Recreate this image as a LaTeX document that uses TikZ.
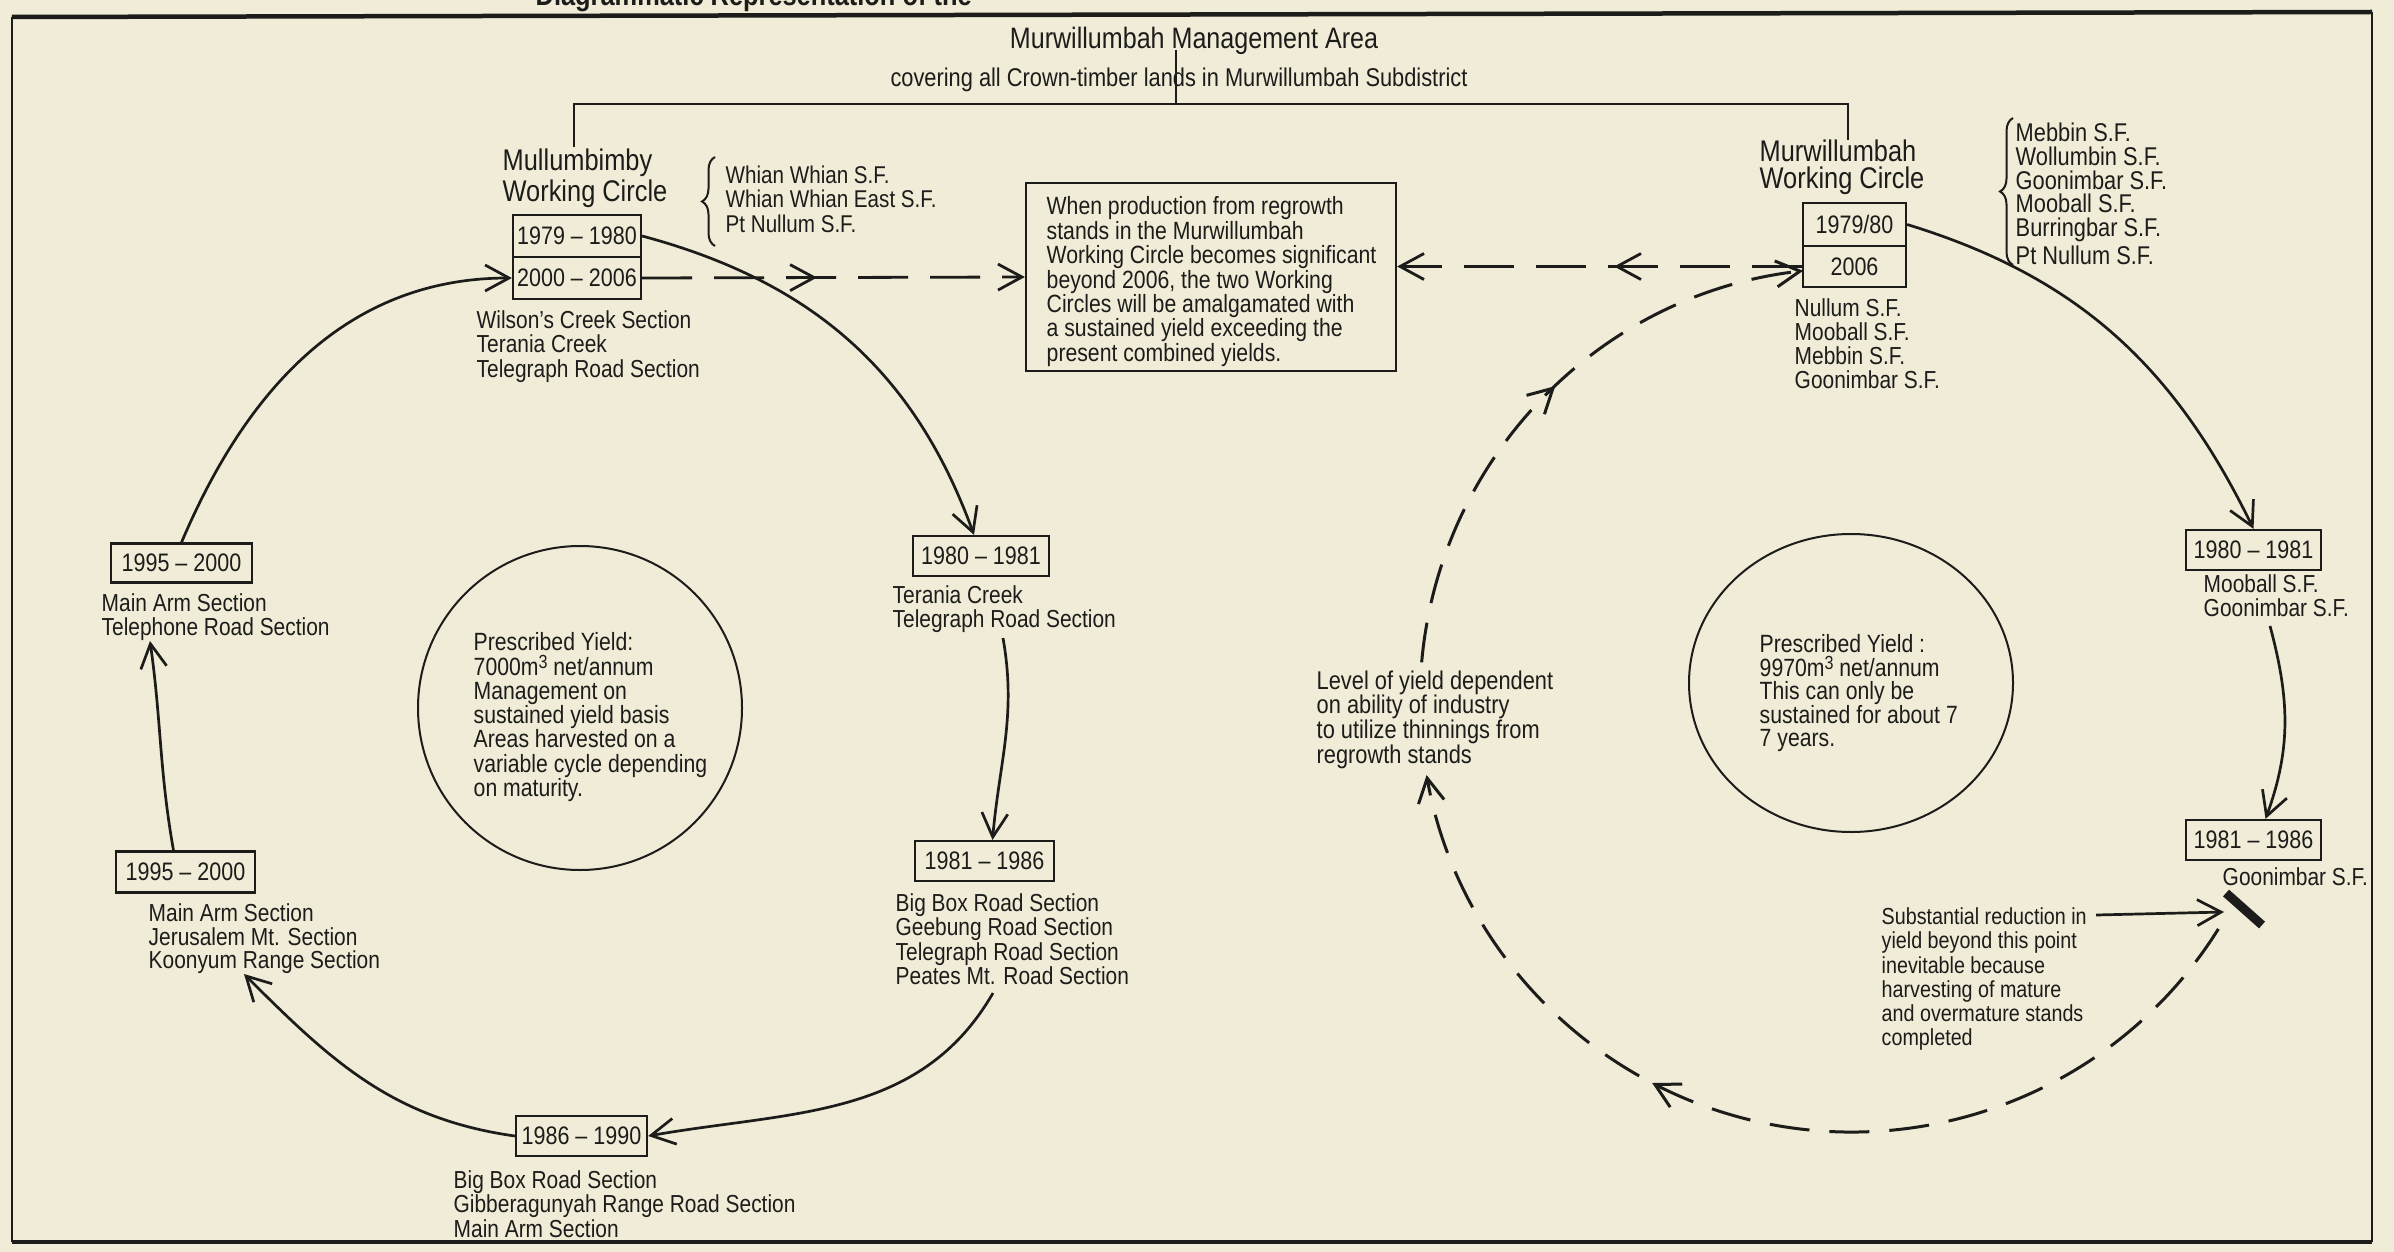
\documentclass[tikz,border=0pt]{standalone}
\usepackage{fontspec}
\setmainfont{Liberation Sans}[FakeStretch=0.85]
\usetikzlibrary{arrows.meta,decorations.pathreplacing,decorations.markings,shapes.geometric,calc}
\definecolor{paper}{HTML}{F0ECD7}
\definecolor{ink}{HTML}{1C1C1A}
\newcommand{\fsz}[2]{\fontsize{#1}{#2}\selectfont}
\newcommand{\cubed}{\raisebox{0.28em}{\fsz{5.4}{5}3}}
\begin{document}
\begin{tikzpicture}[x=0.1mm,y=-0.1mm,
  tx/.style={inner sep=0pt, anchor=north west, align=left, text=ink, font=\fsz{7}{6.95}},
  yr/.style={draw=ink, line width=0.22mm, inner sep=0pt, minimum width=13.6mm, minimum height=4mm, text=ink, font=\fsz{7.2}{8}},
  ln/.style={draw=ink, line width=0.22mm},
  con/.style={draw=ink, line width=0.27mm, -{Straight Barb[length=2.4mm,width=2.6mm]}},
  dsh/.style={draw=ink, line width=0.3mm, dash pattern=on 4mm off 2mm},
  dshh/.style={draw=ink, line width=0.28mm, dash pattern=on 5mm off 2.2mm},
  tipend/.style={-{Straight Barb[length=2.4mm,width=2.6mm]}},
  midtip/.style={postaction={decorate}, decoration={markings, mark=at position #1 with {\arrow{Straight Barb[length=2.4mm,width=2.6mm]}}}},
]
\useasboundingbox (0,0) rectangle (2394,1252);
\fill[paper] (0,0) rectangle (2394,1252);

% caption (clipped at top)
\node[anchor=base west, inner sep=0pt, text=ink, font=\bfseries\fsz{8.5}{9}] (cap) at (535,6) {Diagrammatic Representation of the};

% frame
\coordinate (fTL) at (12,17); \coordinate (fTR) at (2372,12);
\coordinate (fBL) at (12,1242); \coordinate (fBR) at (2372,1242);
\draw[ink, line width=0.45mm] (fTL) -- (fTR);
\draw[ink, line width=0.45mm] (fBL) -- (fBR);
\draw[ink, line width=0.25mm] (fTL) -- (fBL);
\draw[ink, line width=0.25mm] (fTR) -- (fBR);

% top titles
\node[anchor=base, inner sep=0pt, text=ink, font=\fsz{8.4}{9}] (ma) at (1194,49) {Murwillumbah Management Area};
\node[anchor=base, inner sep=0pt, text=ink, font=\fsz{7.3}{8}] (cov) at (1179,87) {covering all Crown-timber lands in Murwillumbah Subdistrict};
\coordinate (v1) at (1176,50); \coordinate (v2) at (1176,104);
\draw[ln] (v1) -- (v2);
\coordinate (hL) at (574,104); \coordinate (hR) at (1848,104);
\coordinate (lL) at (574,147); \coordinate (lR) at (1848,140);
\draw[ln] (lL) -- (hL) -- (hR) -- (lR);

% working circle titles
\node[tx, font=\fsz{8.5}{7.7}] (mwc) at (502,148) {Mullumbimby\\Working Circle};
\node[tx, font=\fsz{8.5}{7.7}] (rwc) at (1759,139) {Murwillumbah\\Working Circle};

% double boxes
\node[yr, minimum width=12.8mm, minimum height=4.2mm] (mtop) at (577,236) {1979 -- 1980};
\node[yr, minimum width=12.8mm, minimum height=4.2mm] (mbot) at (577,278) {2000 -- 2006};
\node[yr, minimum width=10.3mm, minimum height=4.3mm] (rtop) at (1854.5,224.5) {1979/80};
\node[yr, minimum width=10.3mm, minimum height=4.1mm] (rbot) at (1854.5,266.5) {2006};

% braces and lists
\draw[ink, line width=0.2mm, decorate, decoration={brace, amplitude=1.3mm}] (715,246) -- (715,157);
\draw[ink, line width=0.2mm, decorate, decoration={brace, amplitude=1.3mm}] (2013,265) -- (2013,118);
\node[tx, font=\fsz{6.9}{7}] (whian) at (725,165) {Whian Whian S.F.\\Whian Whian East S.F.\\Pt Nullum S.F.};
\node[tx, font=\fsz{7.3}{6.8}] (rlist) at (2015,122) {Mebbin S.F.\\Wollumbin S.F.\\Goonimbar S.F.\\Mooball S.F.\\Burringbar S.F.\\Pt Nullum S.F.};
\node[tx] (wil) at (476,310) {Wilson's Creek Section\\Terania Creek\\Telegraph Road Section};
\node[tx, font=\fsz{7}{6.85}] (nul) at (1794,298) {Nullum S.F.\\Mooball S.F.\\Mebbin S.F.\\Goonimbar S.F.};

% info box
\node[draw=ink, line width=0.22mm, minimum width=37mm, minimum height=18.8mm, inner sep=0pt] (info) at (1211,277) {};
\node[tx, font=\fsz{7.1}{6.95}] (infotx) at (1046,196) {When production from regrowth\\stands in the Murwillumbah\\Working Circle becomes significant\\beyond 2006, the two Working\\Circles will be amalgamated with\\a sustained yield exceeding the\\present combined yields.};

% left chain
\node[yr, minimum width=13.6mm] (b8081) at (981,556) {1980 -- 1981};
\node[tx] (ter) at (892,585) {Terania Creek\\Telegraph Road Section};
\node[yr, minimum width=13.9mm] (b8186) at (984.5,861) {1981 -- 1986};
\node[tx] (bigbox) at (895,893) {Big Box Road Section\\Geebung Road Section\\Telegraph Road Section\\Peates Mt. Road Section};
\node[yr, minimum width=13.1mm] (b8690) at (581.5,1136) {1986 -- 1990};
\node[tx] (gib) at (453,1170) {Big Box Road Section\\Gibberagunyah Range Road Section\\Main Arm Section};
\node[yr, minimum width=13.9mm, minimum height=4.1mm] (b9500a) at (185.5,872) {1995 -- 2000};
\node[tx, font=\fsz{7}{6.7}] (jer) at (148,903) {Main Arm Section\\Jerusalem Mt. Section\\Koonyum Range Section};
\node[yr, minimum width=14.1mm, minimum height=3.9mm] (b9500b) at (181.5,563) {1995 -- 2000};
\node[tx] (tel) at (101,593) {Main Arm Section\\Telephone Road Section};

% circles
\node[draw=ink, line width=0.2mm, circle, minimum size=32.4mm, inner sep=0pt] (lcirc) at (580,708) {};
\node[tx, font=\fsz{7.1}{6.9}] (lctx) at (473,632) {Prescribed Yield:\\7000m\cubed{} net/annum\\Management on\\sustained yield basis\\Areas harvested on a\\variable cycle depending\\on maturity.};
\node[draw=ink, line width=0.2mm, ellipse, minimum width=32.4mm, minimum height=29.8mm, inner sep=0pt] (rcirc) at (1851,683) {};
\node[tx, font=\fsz{7.1}{6.7}] (rctx) at (1759,634) {Prescribed Yield :\\9970m\cubed{} net/annum\\This can only be\\sustained for about 7\\7 years.};
\node[tx, font=\fsz{7.3}{7}] (lev) at (1316,670) {Level of yield dependent\\on ability of industry\\to utilize thinnings from\\regrowth stands};

% right chain
\node[yr, minimum width=13.5mm] (rb8081) at (2253.5,550) {1980 -- 1981};
\node[tx] (moo) at (2203,574) {Mooball S.F.\\Goonimbar S.F.};
\node[yr, minimum width=13.5mm] (rb8186) at (2253.5,840) {1981 -- 1986};
\node[tx] (goo) at (2222,867) {Goonimbar S.F.};
\node[tx, font=\fsz{6.6}{6.9}] (sub) at (1881,907) {Substantial reduction in\\yield beyond this point\\inevitable because\\harvesting of mature\\and overmature stands\\completed};

% solid connectors, left loop
\coordinate (a2s) at (1003,638);
\coordinate (a3s) at (993,993);
\coordinate (a4e) at (244,974);
\coordinate (a5e) at (150,641);
\draw[con] (mtop.east) to[out=-15,in=110] ([xshift=-0.7mm]b8081.north);
\draw[con] (a2s) to[out=-80,in=85] ([xshift=0.8mm]b8186.north);
\draw[con] (a3s) to[out=-120,in=10] (b8690.east);
\draw[con] (b8690.west) to[out=172,in=-45] (a4e);
\draw[con] ([xshift=-1.2mm]b9500a.north) to[out=100,in=-82] (a5e);
\draw[con] (b9500b.north) to[out=67,in=180] (mbot.west);

% right chain connectors
\coordinate (b2s) at (2270,626);
\draw[con] (rtop.east) to[out=-17,in=116] (rb8081.north);
\draw[con] (b2s) to[out=-75,in=70] ([xshift=1.2mm]rb8186.north);

% bar and pointer
\coordinate (bar1) at (2226,893); \coordinate (bar2) at (2262,925);
\draw[ink, line width=0.9mm] (bar1) -- (bar2);
\coordinate (subin) at (2096,915); \coordinate (barp) at (2224,912);
\draw[con] (subin) -- (barp);

% dashed horizontal links
\draw[dshh, tipend, midtip=0.457] (mbot.east) -- (info.west);
\draw[dshh, tipend, midtip=0.464] (rbot.west) -- (info.east |- rbot.west);

% dashed loop
\coordinate (dc) at (1852,700);
\coordinate (d1s) at ($(dc)+(-32:43.2mm)$);
\coordinate (d2s) at ($(dc)+(175:43.2mm)$);
\draw[dsh, tipend, midtip=0.62] (d1s) arc[start angle=-32, end angle=-170, radius=43.2mm];
\draw[dsh, tipend, midtip=0.53] (d2s) arc[start angle=175, end angle=96.5, radius=43.2mm];
\end{tikzpicture}
\end{document}
